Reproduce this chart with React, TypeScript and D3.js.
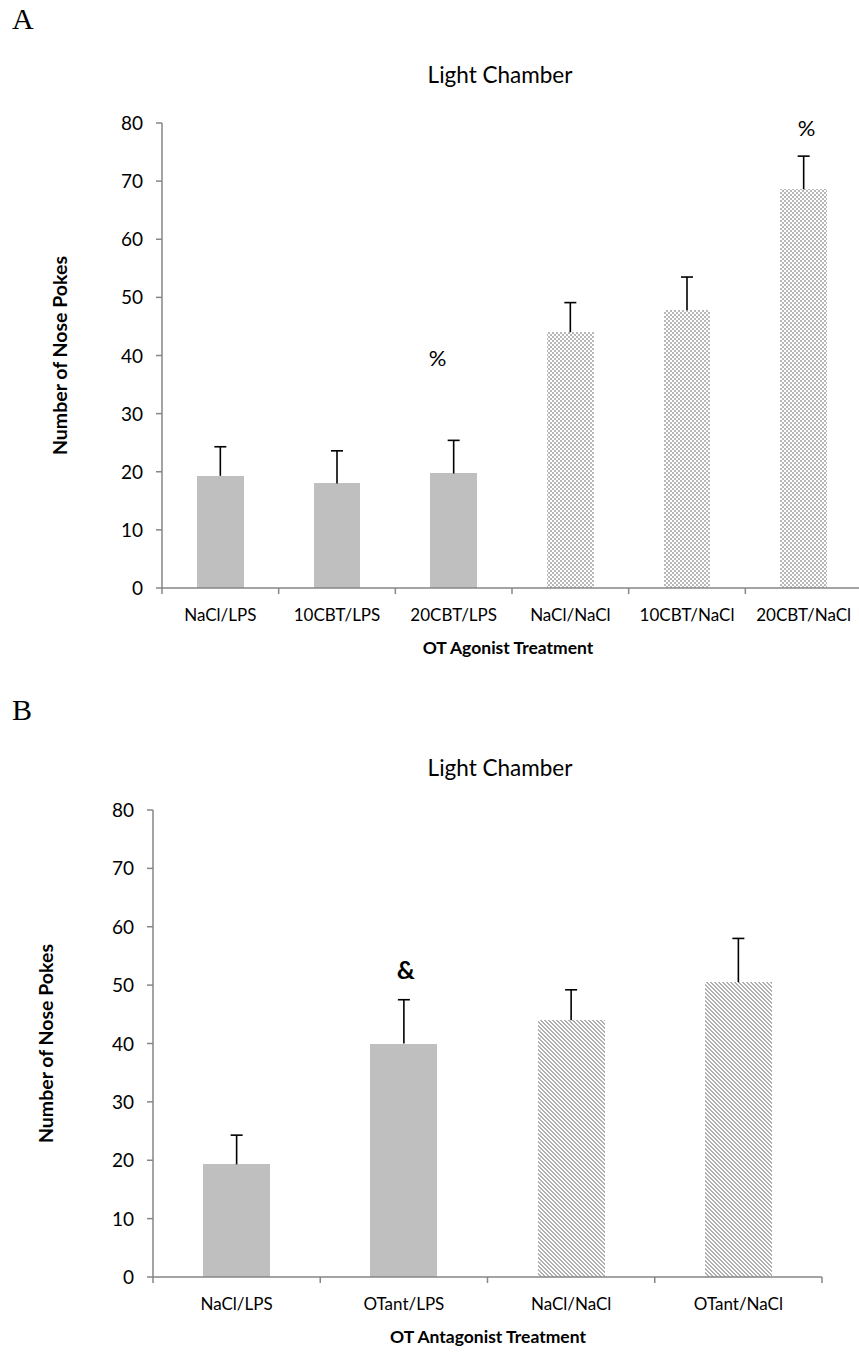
import React from "react";
import * as d3 from "d3";

const catsA = ["NaCl/LPS", "10CBT/LPS", "20CBT/LPS", "NaCl/NaCl", "10CBT/NaCl", "20CBT/NaCl"];
const meansA = [19.3, 18.0, 19.7, 44.0, 47.8, 68.6];
const errTopA = [24.3, 23.6, 25.4, 49.1, 53.5, 74.3];
const fillsA = ["solid", "solid", "solid", "check", "check", "check"];
const marksA = ["", "", "%", "", "", "%"];
const markAtA = [0, 0, 39.6, 0, 0, 79.1];

const catsB = ["NaCl/LPS", "OTant/LPS", "NaCl/NaCl", "OTant/NaCl"];
const meansB = [19.3, 40.0, 44.0, 50.5];
const errTopB = [24.3, 47.5, 49.2, 58.0];
const fillsB = ["solid", "solid", "diag", "diag"];
const marksB = ["", "&", "", ""];
const markAtB = [0, 52.6, 0, 0];

const yTicks = [0, 10, 20, 30, 40, 50, 60, 70, 80];

const FONT = "Lato, 'Open Sans', sans-serif";
const AXIS = "#868686";
const GRAY = "#bfbfbf";

type PanelProps = {
  cats: string[];
  means: number[];
  errTop: number[];
  fills: string[];
  marks: string[];
  markAt: number[];
  x0: number;
  x1: number;
  yTop: number;
  yBot: number;
  title: string;
  titleY: number;
  titleX: number;
  xTitle: string;
  xTitleX: number;
  xTitleY: number;
  yTitleX: number;
  letter: string;
  letterY: number;
  markBold: boolean;
  markDx: number[];
};

function Panel(p: PanelProps) {
  const x = d3.scaleBand<string>().domain(p.cats).range([p.x0, p.x1]).padding(0);
  const y = d3.scaleLinear().domain([0, 80]).range([p.yBot, p.yTop]);
  const bw = x.bandwidth();
  const barW = bw * 0.4;
  const boundaries = p.cats.map((c) => x(c) as number).concat([p.x1]);
  const fillOf = (f: string) => (f === "solid" ? GRAY : f === "check" ? "url(#checker)" : "url(#diag)");
  return (
    <g>
      <text x={12} y={p.letterY} fontFamily="'Liberation Serif', serif" fontSize={30} fill="#000">{p.letter}</text>
      <text x={p.titleX} y={p.titleY} textAnchor="middle" fontFamily={FONT} fontSize={22.5} fill="#000">{p.title}</text>
      {p.cats.map((c, i) => {
        const cx = (x(c) as number) + bw / 2;
        return (
          <g key={c}>
            <rect x={cx - barW / 2} y={y(p.means[i])} width={barW} height={y(0) - y(p.means[i])} fill={fillOf(p.fills[i])} shapeRendering="crispEdges" />
            <line x1={cx} x2={cx} y1={y(p.means[i])} y2={y(p.errTop[i])} stroke="#000" strokeWidth={1.6} />
            <line x1={cx - 6} x2={cx + 6} y1={y(p.errTop[i])} y2={y(p.errTop[i])} stroke="#000" strokeWidth={1.6} />
            {p.marks[i] ? (
              <text x={cx + p.markDx[i]} y={y(p.markAt[i])} dy="0.35em" textAnchor="middle" fontFamily={FONT} fontSize={p.markBold ? 25 : 22} fontWeight={p.markBold ? 700 : 400} fill="#000">{p.marks[i]}</text>
            ) : null}
            <text x={cx} y={y(0) + 33} textAnchor="middle" fontFamily={FONT} fontSize={17} fill="#000">{c}</text>
          </g>
        );
      })}
      <line x1={p.x0} x2={p.x0} y1={y(80)} y2={y(0)} stroke={AXIS} strokeWidth={1.5} />
      {yTicks.map((t) => (
        <g key={t}>
          <line x1={p.x0 - 6} x2={p.x0} y1={y(t)} y2={y(t)} stroke={AXIS} strokeWidth={1.5} />
          <text x={p.x0 - 19} y={y(t) + 7} textAnchor="end" fontFamily={FONT} fontSize={19} fill="#000">{t}</text>
        </g>
      ))}
      <line x1={p.x0} x2={p.x1} y1={y(0)} y2={y(0)} stroke={AXIS} strokeWidth={1.5} />
      {boundaries.map((bx, i) => (
        <line key={i} x1={bx} x2={bx} y1={y(0)} y2={y(0) + 6} stroke={AXIS} strokeWidth={1.5} />
      ))}
      <text x={p.xTitleX} y={p.xTitleY} textAnchor="middle" fontFamily={FONT} fontSize={17.5} fontWeight={700} fill="#000">{p.xTitle}</text>
      <text transform={`translate(${p.yTitleX},${(y(0) + y(80)) / 2}) rotate(-90)`} textAnchor="middle" fontFamily={FONT} fontSize={19.5} fontWeight={700} fill="#000">Number of Nose Pokes</text>
    </g>
  );
}

export default function App() {
  return (
    <svg width={859} height={1369} style={{ position: "absolute", left: 0, top: 0, background: "#fff" }}>
      <defs>
        <pattern id="checker" patternUnits="userSpaceOnUse" width={4} height={4}>
          <rect x={0} y={0} width={4} height={4} fill="#fff" />
          <rect x={0} y={0} width={2} height={2} fill="#b8b8b8" shapeRendering="crispEdges" />
          <rect x={2} y={2} width={2} height={2} fill="#b8b8b8" shapeRendering="crispEdges" />
        </pattern>
        <pattern id="diag" patternUnits="userSpaceOnUse" width={4} height={4}>
          <rect x={0} y={0} width={4} height={4} fill="#fff" />
          {[0, 1, 2, 3].map((r) =>
            [0, 1].map((k) => (
              <rect key={`${r}-${k}`} x={(r + k) % 4} y={r} width={1} height={1} fill="#b0b0b0" shapeRendering="crispEdges" />
            ))
          )}
        </pattern>
      </defs>
      <rect x={0} y={0} width={859} height={1369} fill="#fff" />
      <Panel
        cats={catsA} means={meansA} errTop={errTopA} fills={fillsA} marks={marksA} markAt={markAtA}
        x0={162} x1={862} yTop={123} yBot={588}
        title="Light Chamber" titleX={500} titleY={83}
        xTitle="OT Agonist Treatment" xTitleX={508} xTitleY={654}
        yTitleX={67} letter="A" letterY={29} markBold={false}
        markDx={[0, 0, -16, 0, 0, 3]}
      />
      <Panel
        cats={catsB} means={meansB} errTop={errTopB} fills={fillsB} marks={marksB} markAt={markAtB}
        x0={153} x1={822} yTop={810} yBot={1277}
        title="Light Chamber" titleX={500} titleY={776}
        xTitle="OT Antagonist Treatment" xTitleX={488} xTitleY={1343}
        yTitleX={53} letter="B" letterY={720} markBold={true}
        markDx={[0, 2, 0, 0]}
      />
    </svg>
  );
}
